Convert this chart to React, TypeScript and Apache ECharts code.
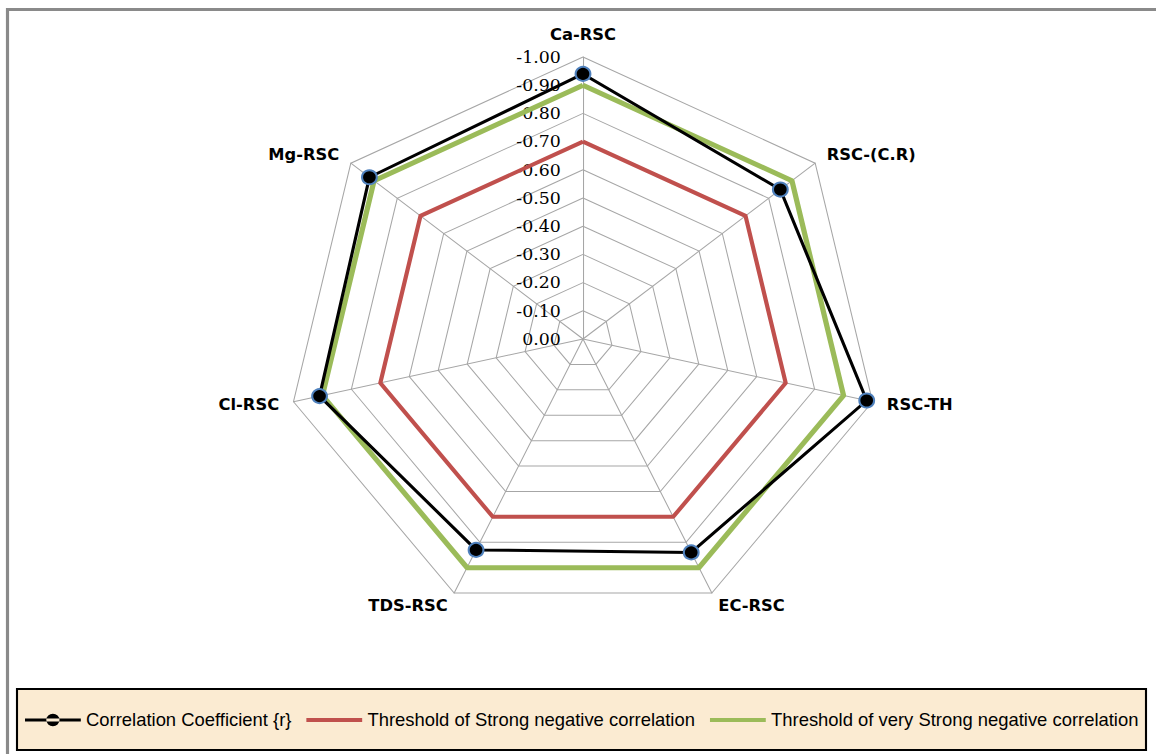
import React, { useEffect, useRef } from "react";
import * as echarts from "echarts";

// Categories in the reference's clockwise reading order, starting at the top
const categories = ["Ca-RSC", "RSC-(C.R)", "RSC-TH", "EC-RSC", "TDS-RSC", "Cl-RSC", "Mg-RSC"];

// Correlation coefficient values (negative), same order as categories
const rValues = [-0.94, -0.85, -0.98, -0.84, -0.83, -0.91, -0.92];
// Threshold of strong negative correlation
const strongValues = [-0.7, -0.7, -0.7, -0.7, -0.7, -0.7, -0.7];
// Threshold of very strong negative correlation
const veryStrongValues = [-0.9, -0.9, -0.9, -0.9, -0.9, -0.9, -0.9];

const seriesNames = [
  "Correlation Coefficient {r}",
  "Threshold of Strong negative correlation",
  "Threshold of very Strong negative correlation",
];

// ECharts lays indicators out counter-clockwise; reorder to match the clockwise reference
const ecOrder = [0, 6, 5, 4, 3, 2, 1];
const reorder = (arr: number[]) => ecOrder.map((i) => Math.abs(arr[i]));

// The reference picture is slightly stretched horizontally
const SX = 1.053;
const CX = 583;
const px = (x: number) => CX + (x - CX) / SX;

export default function App() {
  const ref = useRef<HTMLDivElement>(null);

  useEffect(() => {
    if (!ref.current) return;
    const chart = echarts.init(ref.current, undefined, { renderer: "svg" });

    const indicator = ecOrder.map((i, k) => ({
      name: categories[i],
      min: 0,
      max: 1,
      axisLabel:
        k === 0
          ? {
              show: true,
              margin: 21,
              color: "#000",
              fontFamily: "DejaVu Serif",
              fontSize: 16.5,
              formatter: (v: number) => (Math.abs(v) < 1e-9 ? "0.00" : (-v).toFixed(2)),
            }
          : { show: false },
    }));

    chart.setOption({
      animation: false,
      backgroundColor: "#fff",
      graphic: [
        {
          type: "rect",
          z: 0,
          shape: { x: px(7.5), y: 9.5, width: 1200, height: 770 },
          style: { fill: "none", stroke: "#8a8a8a", lineWidth: 3 },
        },
        {
          type: "rect",
          z: 0,
          shape: { x: px(17), y: 689, width: px(1146) - px(17), height: 61 },
          style: { fill: "#fbebd2", stroke: "#000", lineWidth: 2 },
        },
      ],
      legend: {
        left: px(25) - 5,
        top: 706,
        itemWidth: 53,
        itemHeight: 14,
        itemGap: 14,
        textStyle: { color: "#000", fontFamily: "Liberation Sans", fontSize: 17.5 },
        data: [
          {
            name: seriesNames[0],
            icon: "path://M0,7 L55,7 L55,10 L0,10 Z M21,8.5 A6.5,6.5 0 1,0 34,8.5 A6.5,6.5 0 1,0 21,8.5 Z",
            itemStyle: { borderWidth: 0, color: "#000" },
          },
          {
            name: seriesNames[1],
            icon: "path://M0,0 L55,0 L55,4 L0,4 Z",
            itemStyle: { borderWidth: 0, color: "#c0504d" },
          },
          {
            name: seriesNames[2],
            icon: "path://M0,0 L55,0 L55,4 L0,4 Z",
            itemStyle: { borderWidth: 0, color: "#9bbb59" },
          },
        ],
      },
      radar: {
        center: [CX, 339],
        radius: 282,
        startAngle: 90,
        shape: "polygon",
        splitNumber: 10,
        nameGap: 14,
        axisName: {
          color: "#000",
          fontFamily: "DejaVu Sans",
          fontWeight: "bold",
          fontSize: 15.5,
        },
        splitArea: { show: false },
        splitLine: { lineStyle: { color: "#a6a6a6", width: 1 } },
        axisLine: { lineStyle: { color: "#a6a6a6", width: 1 } },
        axisTick: { show: false },
        indicator,
      },
      series: [
        {
          type: "radar",
          name: seriesNames[1],
          symbol: "none",
          itemStyle: { color: "#c0504d" },
          lineStyle: { color: "#c0504d", width: 4 },
          data: [{ value: reorder(strongValues), name: seriesNames[1] }],
          z: 2,
        },
        {
          type: "radar",
          name: seriesNames[2],
          symbol: "none",
          itemStyle: { color: "#9bbb59" },
          lineStyle: { color: "#9bbb59", width: 5 },
          data: [{ value: reorder(veryStrongValues), name: seriesNames[2] }],
          z: 2,
        },
        {
          type: "radar",
          name: seriesNames[0],
          symbol: "circle",
          symbolSize: 14,
          itemStyle: { color: "#000", borderColor: "#4f81bd", borderWidth: 2 },
          lineStyle: { color: "#000", width: 3 },
          data: [{ value: reorder(rValues), name: seriesNames[0] }],
          z: 3,
        },
      ],
    });

    return () => chart.dispose();
  }, []);

  return (
    <div style={{ position: "absolute", left: 0, top: 0, width: 1156, height: 754, overflow: "hidden" }}>
      <div
        ref={ref}
        style={{
          width: 1156,
          height: 754,
          transform: `scaleX(${SX})`,
          transformOrigin: `${CX}px 0px`,
        }}
      />
    </div>
  );
}
